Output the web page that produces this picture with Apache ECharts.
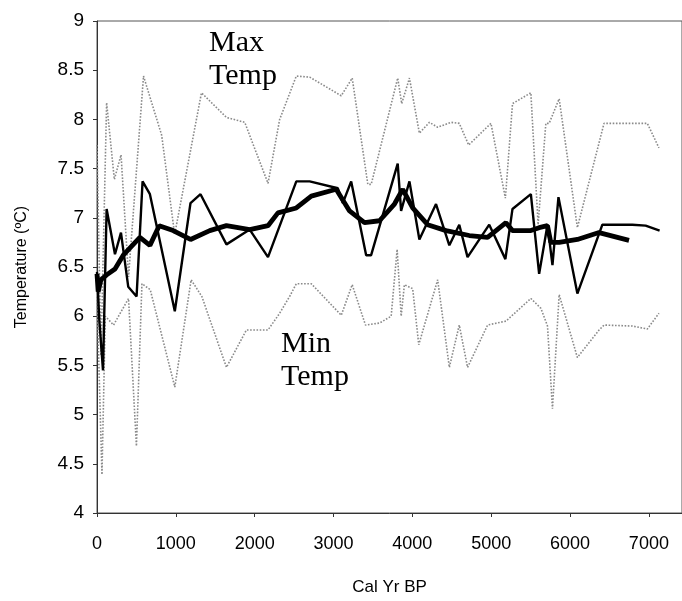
<!DOCTYPE html>
<html>
<head>
<meta charset="utf-8">
<script src="https://cdn.jsdelivr.net/npm/echarts@6/dist/echarts.min.js"></script>
<style>
html,body{margin:0;padding:0;background:#fff;}
#chart{width:682px;height:601px;}
</style>
</head>
<body>
<div id="chart"></div>
<script>
/* x ticks / y ticks */
var xTicks = [0, 1000, 2000, 3000, 4000, 5000, 6000, 7000];
var yTicks = [4, 4.5, 5, 5.5, 6, 6.5, 7, 7.5, 8, 8.5, 9];

/* max temp (grey dotted) */
var maxYears = [0, 50, 122, 220, 305, 400, 590, 820, 985, 1325, 1642, 1874, 2169, 2317, 2528, 2697, 3098, 3237, 3435, 3478, 3814, 3865, 3963, 4089, 4216, 4321, 4491, 4595, 4714, 4997, 5180, 5270, 5503, 5595, 5693, 5735, 5862, 6093, 6431, 6980, 7128];
var maxTemp  = [7.74, 5.6, 8.17, 7.39, 7.64, 6.4, 8.44, 7.84, 6.83, 8.27, 8.02, 7.97, 7.35, 8.0, 8.44, 8.43, 8.24, 8.42, 7.34, 7.34, 8.42, 8.16, 8.42, 7.86, 7.97, 7.92, 7.97, 7.96, 7.74, 7.96, 7.2, 8.16, 8.27, 6.93, 7.96, 7.96, 8.21, 6.9, 7.96, 7.96, 7.71];

/* min temp (grey dotted) */
var minYears = [0, 63, 105, 210, 400, 500, 570, 675, 987, 1194, 1330, 1642, 1895, 2169, 2317, 2443, 2528, 2718, 3098, 3237, 3405, 3583, 3731, 3807, 3858, 3899, 4004, 4081, 4321, 4469, 4595, 4700, 4954, 5187, 5503, 5630, 5714, 5777, 5862, 6093, 6368, 6431, 6790, 6980, 7128];
var minTemp  = [6.2, 4.39, 6.0, 5.91, 6.18, 4.68, 6.33, 6.27, 5.28, 6.37, 6.2, 5.48, 5.86, 5.86, 6.03, 6.2, 6.33, 6.33, 6.01, 6.32, 5.91, 5.93, 6.0, 6.68, 6.0, 6.32, 6.28, 5.71, 6.37, 5.48, 5.91, 5.48, 5.91, 5.95, 6.18, 6.08, 5.9, 5.06, 6.22, 5.58, 5.86, 5.91, 5.9, 5.87, 6.03];

/* reconstructed temperature (thin black) */
var tempYears = [0, 30, 76, 122, 228, 304, 396, 502, 578, 671, 987, 1186, 1313, 1642, 1937, 2169, 2528, 2697, 3055, 3118, 3224, 3414, 3477, 3814, 3857, 3963, 4089, 4300, 4469, 4595, 4700, 4975, 5180, 5270, 5503, 5608, 5714, 5777, 5853, 6093, 6410, 6790, 6959, 7136];
var tempVals  = [6.45, 5.95, 5.45, 7.09, 6.63, 6.85, 6.3, 6.2, 7.37, 7.24, 6.05, 7.15, 7.24, 6.73, 6.88, 6.6, 7.37, 7.37, 7.3, 7.15, 7.37, 6.62, 6.62, 7.55, 7.07, 7.37, 6.78, 7.14, 6.72, 6.93, 6.6, 6.93, 6.58, 7.09, 7.24, 6.43, 6.93, 6.52, 7.21, 6.23, 6.93, 6.93, 6.92, 6.87];

/* smoothed temperature (thick black) */
var smoothYears = [0, 15, 50, 122, 228, 333, 544, 671, 789, 966, 1186, 1430, 1642, 1937, 2169, 2295, 2528, 2718, 3034, 3203, 3393, 3583, 3773, 3878, 4004, 4194, 4427, 4722, 4954, 5187, 5270, 5503, 5608, 5714, 5756, 5862, 6093, 6368, 6748];
var smoothVals  = [6.43, 6.25, 6.37, 6.42, 6.48, 6.62, 6.8, 6.72, 6.92, 6.87, 6.78, 6.87, 6.92, 6.88, 6.92, 7.05, 7.1, 7.22, 7.29, 7.07, 6.95, 6.97, 7.14, 7.29, 7.1, 6.93, 6.87, 6.82, 6.8, 6.95, 6.87, 6.87, 6.9, 6.92, 6.75, 6.75, 6.78, 6.85, 6.77];

function pairs(xs, ys) {
	return xs.map(function (x, i) { return [x, ys[i]]; });
}

var chart = echarts.init(document.getElementById('chart'));
var font = 'Liberation Sans, Arial, sans-serif';

chart.setOption({
	animation: false,
	backgroundColor: '#fff',
	grid: { left: 97, top: 21, right: -2, bottom: 82, show: true, borderColor: '#555', borderWidth: 1 },
	xAxis: {
		type: 'value',
		min: xTicks[0],
		max: 7420,
		interval: 1000,
		name: 'Cal Yr BP',
		nameLocation: 'middle',
		nameGap: 66,
		nameTextStyle: { fontFamily: font, fontSize: 17, color: '#000' },
		axisLine: { lineStyle: { color: '#333', width: 1 } },
		axisTick: { inside: false, length: 4, lineStyle: { color: '#333' } },
		axisLabel: {
			showMaxLabel: false, fontFamily: font, fontSize: 18, color: '#000', margin: 22,
			formatter: function (v) { return String(v); }
		},
		splitLine: { show: false }
	},
	yAxis: {
		type: 'value',
		min: yTicks[0],
		max: yTicks[yTicks.length - 1],
		interval: 0.5,
		name: 'Temperature (ºC)',
		nameLocation: 'middle',
		nameRotate: 90,
		nameGap: 67,
		nameTextStyle: { fontFamily: font, fontSize: 16, color: '#000' },
		axisLine: { show: true, lineStyle: { color: '#333', width: 1 } },
		axisTick: { show: true, length: 4, lineStyle: { color: '#333' } },
		axisLabel: { fontFamily: font, fontSize: 19, color: '#000', margin: 13 },
		splitLine: { show: false }
	},
	graphic: [
		{ type: 'text', left: 209, top: 27, style: { text: 'Max\nTemp', font: '30px "Liberation Serif", "Times New Roman", serif', lineHeight: 33, fill: '#000' } },
		{ type: 'text', left: 281, top: 328, style: { text: 'Min\nTemp', font: '30px "Liberation Serif", "Times New Roman", serif', lineHeight: 33, fill: '#000' } }
	],
	series: [
		{ name: 'Max Temp', type: 'line', data: pairs(maxYears, maxTemp), showSymbol: false, lineStyle: { color: '#8a8a8a', width: 1.6, type: 'dotted' } },
		{ name: 'Min Temp', type: 'line', data: pairs(minYears, minTemp), showSymbol: false, lineStyle: { color: '#8a8a8a', width: 1.6, type: 'dotted' } },
		{ name: 'Temp', type: 'line', data: pairs(tempYears, tempVals), showSymbol: false, lineStyle: { color: '#000', width: 2.4 } },
		{ name: 'Smoothed', type: 'line', data: pairs(smoothYears, smoothVals), showSymbol: false, lineStyle: { color: '#000', width: 4.8 } }
	]
});
</script>
</body>
</html>
